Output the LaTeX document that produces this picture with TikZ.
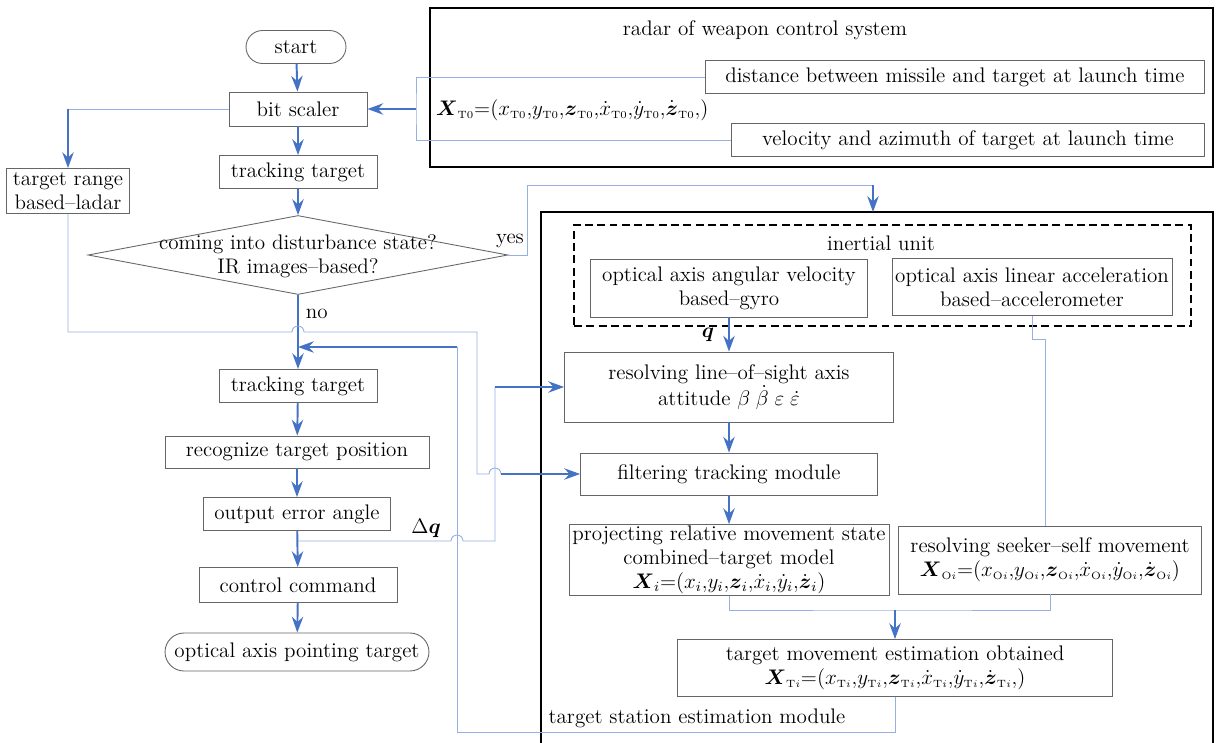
\documentclass[tikz,border=0pt]{standalone}
\usepackage{amsmath}
\usepackage{tikz}
\usetikzlibrary{arrows.meta,shapes.geometric}
\definecolor{flowblue}{RGB}{68,114,196}
\definecolor{wireblue}{RGB}{150,176,226}
\tikzset{font=\fontsize{12}{13.5}\selectfont}
\tikzset{box/.style={draw=black!60, line width=.5pt, fill=white, align=center, inner sep=1pt}}
\tikzset{term/.style={box, rounded corners=.33cm}}
\tikzset{flow/.style={flowblue, line width=1.1pt, -{Stealth[length=9pt, width=6.5pt, inset=3pt]}}}
\tikzset{wire/.style={wireblue, line width=.5pt}}
\tikzset{frame/.style={black, line width=1.2pt}}
\newcommand{\lo}[1]{_{\scriptscriptstyle\mathrm{#1}}}

\begin{document}
\begin{tikzpicture}[x=.02cm, y=-.02cm]
  \useasboundingbox (0,0) rectangle (1227,743);
  % left column
  \node[term, minimum width=2cm, minimum height=.66cm] (start) at (296,47) {start};
  \node[box, minimum width=2.76cm, minimum height=.68cm] (scaler) at (298,109) {bit scaler};
  \node[box, minimum width=3.16cm, minimum height=.66cm] (track) at (298,172) {tracking target};
  \node[diamond, draw=black!60, line width=.5pt, inner sep=0pt,
    minimum width=8.4cm, minimum height=1.58cm] (decide) at (298,255) {};
  \node[align=center] (decidetext) at (298,256) {coming into disturbance state?\\IR images--based?};
  \node[box, minimum width=2.46cm, minimum height=.9cm] (ladar) at (68,191) {target range\\based--ladar};
  \node[box, minimum width=3.16cm, minimum height=.66cm] (track2) at (298,386) {tracking target};
  \node[box, minimum width=5.28cm, minimum height=.64cm] (recog) at (297,452) {recognize target position};
  \node[box, minimum width=3.74cm, minimum height=.66cm] (angle) at (297,514) {output error angle};
  \node[box, minimum width=3.96cm, minimum height=.7cm] (command) at (298,585) {control command};
  \node[term, minimum width=5.28cm, minimum height=.76cm, rounded corners=.38cm] (pointing)
    at (297,652) {optical axis pointing target};

  % radar
  \draw[frame] (430,8) rectangle (1213,167);
  \node (radar) at (765,30) {radar of weapon control system};
  \node[box, minimum width=9.98cm, minimum height=.66cm] (dist) at (955,77)
    {distance between missile and target at launch time};
  \node[box, minimum width=9.46cm, minimum height=.66cm] (velo) at (968,140)
    {velocity and azimuth of target at launch time};
  \node[anchor=west, inner sep=1pt] (xt0) at (434,110)
    {$\boldsymbol{X}\lo{T0}{=}(x\lo{T0}{,}y\lo{T0}{,}\boldsymbol{z}\lo{T0}{,}\dot{x}\lo{T0}{,}\dot{y}\lo{T0}{,}\dot{\boldsymbol{z}}\lo{T0}{,})$};

  % seeker module
  \draw[frame] (541,750) -- (541,212) -- (1213,212) -- (1213,750);
  \node[draw, dash pattern=on 4.5pt off 2.5pt, line width=.7pt, minimum width=12.34cm,
    minimum height=2.02cm] (inertial) at (882.5,275.5) {};
  \node (inertialtext) at (881,243) {inertial unit};
  \node[box, minimum width=5.54cm, minimum height=1.16cm] (gyro) at (729,288)
    {optical axis angular velocity\\based--gyro};
  \node[box, minimum width=5.6cm, minimum height=1.14cm] (accel) at (1032,287)
    {optical axis linear acceleration\\based--accelerometer};
  \node[box, minimum width=6.58cm, minimum height=1.4cm] (los) at (729,387)
    {resolving line--of--sight axis\\attitude $\beta\;\dot{\beta}\;\varepsilon\;\dot{\varepsilon}$};
  \node[box, minimum width=5.94cm, minimum height=.84cm] (filter) at (729,474) {filtering tracking module};
  \node[box, minimum width=6.4cm, minimum height=1.38cm] (project) at (729,560)
    {projecting relative movement state\\combined--target model\\
     $\boldsymbol{X}_i{=}(x_i{,}y_i{,}\boldsymbol{z}_i{,}\dot{x}_i{,}\dot{y}_i{,}\dot{\boldsymbol{z}}_i)$};
  \node[box, minimum width=6.06cm, minimum height=1.36cm] (seeker) at (1050,560)
    {resolving seeker--self movement\\
     $\boldsymbol{X}\lo{O\mathit{i}}{=}(x\lo{O\mathit{i}}{,}y\lo{O\mathit{i}}{,}\boldsymbol{z}\lo{O\mathit{i}}{,}\dot{x}\lo{O\mathit{i}}{,}\dot{y}\lo{O\mathit{i}}{,}\dot{\boldsymbol{z}}\lo{O\mathit{i}})$};
  \node[box, minimum width=8.7cm, minimum height=1.14cm] (estimate) at (895,668)
    {target movement estimation obtained\\
     $\boldsymbol{X}\lo{T\mathit{i}}{=}(x\lo{T\mathit{i}}{,}y\lo{T\mathit{i}}{,}\boldsymbol{z}\lo{T\mathit{i}}{,}\dot{x}\lo{T\mathit{i}}{,}\dot{y}\lo{T\mathit{i}}{,}\dot{\boldsymbol{z}}\lo{T\mathit{i}}{,})$};
  \node (station) at (697,718) {target station estimation module};

  % bends and hops
  \coordinate (noin) at (298,347);
  \coordinate (hopA) at (298,332);
  \coordinate (turnA) at (477,332);
  \coordinate (hopB) at (495,474);
  \coordinate (dqout) at (298,541);
  \coordinate (hopC) at (457,541);
  \coordinate (dqbend) at (495,541);
  \coordinate (esturn) at (895,732);
  \coordinate (fbtop) at (457,347);
  \coordinate (brk) at (416,109);
  \coordinate (yesbend) at (527,185);
  \coordinate (modtop) at (873,212);
  \coordinate (merge) at (895,610);
  \coordinate (accbend) at (1045,339);

  % main flow
  \draw[flow] (start) -- (scaler);
  \draw[flow] (scaler) -- (track);
  \draw[flow] (track) -- (decide);
  \draw[flow] (decide) -- node[pos=.25, right, inner sep=4pt, text=black] (no) {no} (track2);
  \draw[flow] (track2) -- (recog);
  \draw[flow] (recog) -- (angle);
  \draw[flow] (angle) -- (command);
  \draw[flow] (command) -- (pointing);

  \draw[wire] (scaler.west) -- (scaler.west -| ladar.north);
  \draw[flow] (scaler.west -| ladar.north) -- (ladar.north);
  \draw[wire] (dist.west) -| (brk) |- (velo.west);
  \draw[flow] (brk) -- (scaler.east);

  \draw[wire] (decide.east) -| (yesbend) -- (yesbend -| modtop);
  \draw[flow] (yesbend -| modtop) -- (modtop);
  \node (yes) at (510,241) {yes};

  \draw[wire] (ladar.south) |- ([xshift=-.12cm]hopA)
    arc[start angle=180, end angle=0, radius=.12cm] -- (turnA) |- ([xshift=-.12cm]hopB)
    arc[start angle=180, end angle=0, radius=.12cm] -- ([xshift=.12cm]hopB);
  \draw[flow] ([xshift=.12cm]hopB) -- (filter.west);

  \draw[wire] (dqout) -- ([xshift=-.12cm]hopC)
    arc[start angle=180, end angle=0, radius=.12cm] -- (dqbend) -- (dqbend |- los.west);
  \draw[flow] (dqbend |- los.west) -- (los.west);
  \node (dq) at (426,528) {$\Delta\boldsymbol{q}$};

  % inside the module
  \draw[flow] (gyro) -- (los);
  \node (q) at (708,335) {$\boldsymbol{q}$};
  \draw[flow] (los) -- (filter);
  \draw[flow] (filter) -- (project);
  \draw[wire] (accel.south) |- (accbend) -- (seeker.north -| accbend);
  \draw[wire] (project.south) |- (merge) -| (seeker.south);
  \draw[flow] (merge) -- (estimate);

  % feedback loop
  \draw[wire] (estimate.south) -- (esturn) -| (fbtop);
  \draw[flow] (fbtop) -- (noin);
\end{tikzpicture}
\end{document}
